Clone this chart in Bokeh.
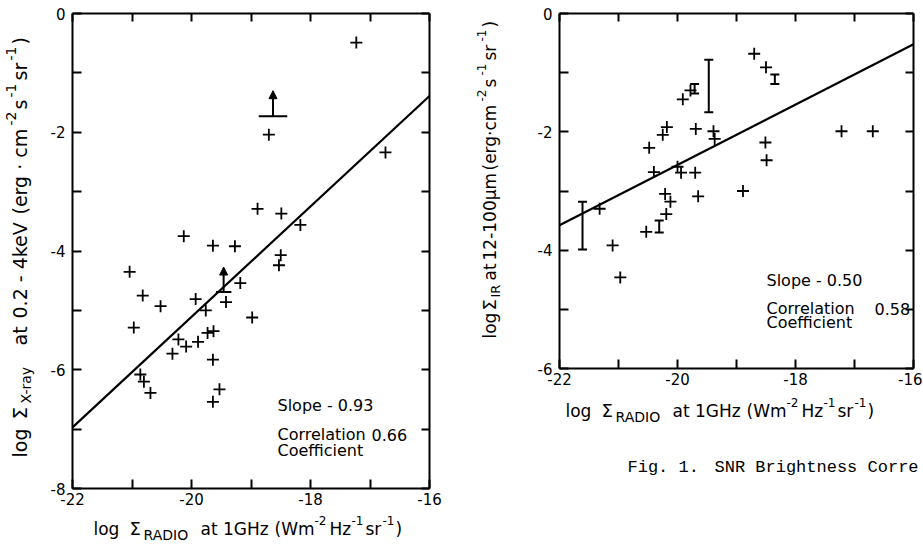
import math
from bokeh.plotting import figure
from bokeh.layouts import row
from bokeh.models import (ColumnDataSource, FixedTicker, LinearAxis, Label, Arrow,
                          NormalHead, Whisker, TeeHead)
from bokeh.embed import file_html
from bokeh.resources import INLINE

# ---------------- data: left panel (X-ray vs radio) ----------------
xr_x = [-17.23, -18.70, -18.89, -18.49, -18.17, -20.13, -19.64, -19.27, -18.50, -18.53,
        -21.04, -20.82, -20.52, -20.97, -19.93, -19.76, -19.73, -19.63, -20.22, -20.09,
        -19.89, -20.32, -19.64, -20.86, -20.80, -20.69, -19.53, -19.64, -19.42, -19.18,
        -18.98, -16.74]
xr_y = [-0.49, -2.04, -3.29, -3.37, -3.56, -3.75, -3.91, -3.92, -4.07, -4.24,
        -4.35, -4.75, -4.93, -5.29, -4.81, -5.00, -5.38, -5.35, -5.49, -5.61,
        -5.53, -5.73, -5.83, -6.08, -6.20, -6.39, -6.33, -6.54, -4.86, -4.54,
        -5.12, -2.34]
# lower limits (bar + upward arrow)
lim_x = [-18.63, -19.46]
lim_y = [-1.73, -4.69]
lim_top = [-1.30, -4.27]
lim_bar_x0 = [-18.87, -19.59]
lim_bar_x1 = [-18.39, -19.33]
xr_fit_x = [-22, -16]
xr_fit_y = [-6.97, -1.39]

# ---------------- data: right panel (IR vs radio) ----------------
ir_x = [-18.70, -18.50, -19.78, -19.91, -20.18, -20.25, -20.48, -19.69, -19.39, -19.37,
        -18.51, -18.49, -18.89, -20.40, -20.00, -19.94, -19.70, -19.65, -20.21, -20.12,
        -20.19, -20.53, -21.32, -21.10, -20.97, -17.22, -16.69]
ir_y = [-0.68, -0.91, -1.30, -1.45, -1.92, -2.05, -2.27, -1.95, -1.99, -2.12,
        -2.18, -2.48, -3.00, -2.68, -2.59, -2.69, -2.69, -3.09, -3.05, -3.18,
        -3.39, -3.69, -3.30, -3.92, -4.46, -1.99, -1.99]
err_x = [-21.61, -20.31, -19.71, -19.47, -18.35]
err_lo = [-3.99, -3.70, -1.35, -1.67, -1.19]
err_hi = [-3.18, -3.50, -1.19, -0.78, -1.03]
ir_fit_x = [-22, -16]
ir_fit_y = [-3.58, -0.52]

x_ticks = [-22, -21, -20, -19, -18, -17, -16]
xr_y_ticks = [-8, -7, -6, -5, -4, -3, -2, -1, 0]
ir_y_ticks = [-6, -5, -4, -3, -2, -1, 0]

FONT = "DejaVu Sans"
MONO = "Liberation Mono"
H = 550


def even_labels(ticks):
    return {t: ("" if t % 2 else str(t)) for t in ticks}


class Panel:
    """A figure whose frame fills the canvas; the plot box is drawn by four
    fixed-location axes, so texts outside the box are not clipped."""

    def __init__(self, page_x0, width, box_left, box_right, box_top, box_bottom, y0, y1, yticks):
        self.sx = (box_right - box_left) / 6.0
        self.sy = (box_bottom - box_top) / float(y1 - y0)
        self.bl, self.bt = box_left, box_top
        self.y1 = y1
        xr = (self.fx(page_x0), self.fx(page_x0 + width))
        yr = (self.fy(H), self.fy(0))
        p = figure(width=width, height=H, x_range=xr, y_range=yr,
                   output_backend="svg", toolbar_location=None,
                   x_axis_location=None, y_axis_location=None,
                   min_border=0, min_border_left=0, min_border_right=0,
                   min_border_top=0, min_border_bottom=0)
        p.grid.visible = False
        p.outline_line_color = None
        p.background_fill_color = "white"
        p.border_fill_color = "white"
        specs = (("below", x_ticks, y0, True), ("left", yticks, -22, True),
                 ("above", x_ticks, y1, False), ("right", yticks, -16, False))
        for loc, ticks, fixed, labelled in specs:
            ax = LinearAxis(ticker=FixedTicker(ticks=ticks), fixed_location=fixed,
                            bounds=(min(ticks), max(ticks)),
                            major_tick_in=9 if labelled else 8, major_tick_out=0,
                            minor_tick_line_color=None, axis_line_width=2,
                            major_tick_line_width=2, axis_line_color="black",
                            major_tick_line_color="black")
            if labelled:
                ax.major_label_overrides = even_labels(ticks)
                ax.major_label_text_font = FONT
                ax.major_label_text_font_size = "15px"
                ax.major_label_text_color = "black"
                ax.major_label_standoff = 4 if loc == "below" else 7
            else:
                ax.major_label_overrides = {t: "" for t in ticks}
                ax.major_label_text_font_size = "0px"
                ax.major_label_standoff = 0
            p.add_layout(ax, loc)
        self.p = p

    # page pixel -> data
    def fx(self, px):
        return -22 + (px - self.bl) / self.sx

    def fy(self, py):
        return self.y1 - (py - self.bt) / self.sy

    def pieces(self, items, base, rotated=False, font=FONT):
        for text, pos, size, shift in items:
            if not rotated:
                lab = Label(x=self.fx(pos), y=self.fy(base + shift), text=text, text_font=font,
                            text_font_size=f"{size}px", text_align="left",
                            text_baseline="alphabetic", text_color="black")
            else:
                lab = Label(x=self.fx(base + shift), y=self.fy(pos), text=text, text_font=font,
                            text_font_size=f"{size}px", text_align="left",
                            text_baseline="alphabetic", angle=math.pi / 2, text_color="black")
            self.p.add_layout(lab)


def radio_label(panel, x0, base):
    panel.pieces([("log", x0, 17, 0), ("Σ", x0 + 36, 18, 0), ("RADIO", x0 + 50, 14, 6),
                  ("at 1GHz", x0 + 107, 17, 0), ("(Wm", x0 + 181, 17, 0),
                  ("-2", x0 + 221, 12, -8), ("Hz", x0 + 236, 17, 0),
                  ("-1", x0 + 258, 12, -8), ("sr", x0 + 272, 17, 0),
                  ("-1", x0 + 289, 12, -8), (")", x0 + 302, 17, 0)], base)


# ---------------- left panel ----------------
LP = Panel(0, 448, 72, 429, 13, 488, -8, 0, xr_y_ticks)
L = LP.p
L.line(xr_fit_x, xr_fit_y, line_color="black", line_width=2.2)
L.scatter(xr_x, xr_y, marker="cross", size=12, line_width=1.8, color="black")
L.segment(x0=lim_bar_x0, y0=lim_y, x1=lim_bar_x1, y1=lim_y, line_color="black", line_width=2)
lim_src = ColumnDataSource(dict(x=lim_x, y=lim_y, top=lim_top))
L.add_layout(Arrow(end=NormalHead(size=8, fill_color="black", line_color="black"),
                   x_start="x", y_start="y", x_end="x", y_end="top", source=lim_src,
                   line_width=2, line_color="black"))

LP.pieces([("Slope - 0.93", 277, 16, 0)], 405)
LP.pieces([("Correlation", 277, 16, 0), ("0.66", 371, 16, 0)], 434)
LP.pieces([("Coefficient", 277, 16, 0)], 450)

radio_label(LP, 93, 528)
LP.pieces([("log", 457, 19, 0), ("Σ", 419, 20, 0), ("X-ray", 403, 14, 6), ("at", 345, 19, 0),
           ("0.2 - 4keV", 318, 19, 0), ("(erg · cm", 214, 19, 0), ("-2", 125, 14, -9),
           ("s", 109, 19, 0), ("-1", 97, 14, -9), ("sr", 80, 19, 0),
           ("-1", 60, 14, -9), (")", 44, 19, 0)], 19, rotated=True)

# ---------------- right panel ----------------
RP = Panel(448, 474, 559, 913, 13, 368, -6, 0, ir_y_ticks)
R = RP.p
R.line(ir_fit_x, ir_fit_y, line_color="black", line_width=2.2)
R.scatter(ir_x, ir_y, marker="cross", size=12, line_width=1.8, color="black")
err_src = ColumnDataSource(dict(x=err_x, lo=err_lo, hi=err_hi))
R.add_layout(Whisker(base="x", lower="lo", upper="hi", source=err_src, dimension="height",
                     line_width=2, line_color="black",
                     lower_head=TeeHead(size=9, line_width=2, line_color="black"),
                     upper_head=TeeHead(size=9, line_width=2, line_color="black")))

RP.pieces([("Slope - 0.50", 766, 16, 0)], 280)
RP.pieces([("Correlation", 766, 16, 0), ("0.58", 874, 16, 0)], 308)
RP.pieces([("Coefficient", 766, 16, 0)], 322)

radio_label(RP, 565, 410)
RP.pieces([("log", 338, 17, 0), ("Σ", 310, 18, 0), ("IR", 297, 13, 6), ("at", 280, 17, 0),
           ("12-100μm", 260, 17, 0), ("(erg·cm", 170, 17, 0), ("-2", 101, 12, -8),
           ("s", 87, 17, 0), ("-1", 75, 12, -8), ("sr", 60, 17, 0),
           ("-1", 41, 12, -8), (")", 27, 17, 0)], 489, rotated=True)

RP.pieces([("Fig. 1.", 627, 17, 0), ("SNR Brightness Corre", 714, 17, 0)], 467, font=MONO)

layout = row(L, R)
open("out.html", "w").write(file_html(layout, INLINE))
